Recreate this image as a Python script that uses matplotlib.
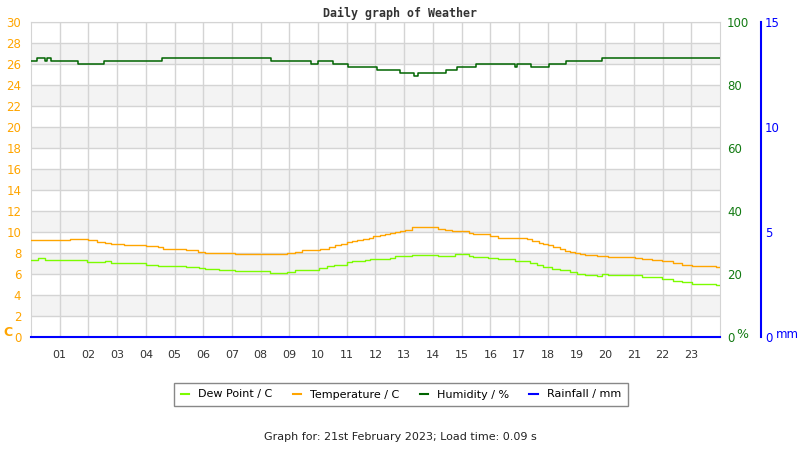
import matplotlib
matplotlib.use("Agg")
import matplotlib.pyplot as plt
from matplotlib.lines import Line2D

# hours at which each reading starts (step data, held until next reading)
temp_t = [0, 1.37, 1.97, 2.31, 2.59, 2.80, 3.25, 4.02, 4.44, 4.61, 5.41, 5.83, 6.07, 6.53,
          7.12, 8.92, 9.21, 9.44, 10.08, 10.37, 10.6, 10.81, 11.0, 11.18, 11.35, 11.58, 11.76,
          11.93, 12.17, 12.34, 12.51, 12.69, 12.86, 13.04, 13.27, 14.19, 14.43, 14.66, 15.24,
          15.41, 15.99, 16.28, 16.92, 17.27, 17.44, 17.68, 17.85, 18.02, 18.2, 18.43, 18.6,
          18.78, 18.95, 19.13, 19.3, 19.71, 20.11, 21.04, 21.27, 21.62, 21.97, 22.37, 22.67,
          23.01, 23.85, 24]
temp_v = [9.24, 9.32, 9.24, 9.07, 9.0, 8.87, 8.78, 8.69, 8.57, 8.39, 8.29, 8.12, 8.02, 7.98,
          7.9, 8.0, 8.1, 8.28, 8.4, 8.58, 8.76, 8.9, 9.08, 9.18, 9.28, 9.35, 9.47,
          9.63, 9.7, 9.77, 9.86, 9.99, 10.08, 10.18, 10.43, 10.3, 10.17, 10.05, 9.91,
          9.79, 9.62, 9.46, 9.4, 9.3, 9.14, 8.98, 8.86, 8.73, 8.54, 8.38, 8.22,
          8.1, 8.0, 7.9, 7.84, 7.71, 7.62, 7.56, 7.43, 7.33, 7.2, 7.01, 6.89,
          6.76, 6.68, 6.68]

dew_t = [0, 0.24, 0.5, 1.96, 2.59, 2.8, 3.29, 4.01, 4.43, 5.41, 5.84, 6.07, 6.54, 7.12, 8.34,
         8.92, 9.21, 9.84, 10.02, 10.31, 10.54, 11.0, 11.18, 11.64, 11.82, 12.51, 12.69, 12.92,
         13.27, 14.19, 14.78, 15.24, 15.41, 15.93, 16.28, 16.86, 17.38, 17.62, 17.85, 18.14,
         18.43, 18.78, 19.01, 19.3, 19.71, 19.88, 20.11, 21.04, 21.27, 21.62, 21.97, 22.37,
         22.67, 23.01, 23.85, 24]
dew_v = [7.33, 7.48, 7.33, 7.14, 7.2, 7.05, 7.03, 6.89, 6.76, 6.63, 6.55, 6.48, 6.41, 6.25, 6.06,
         6.19, 6.36, 6.38, 6.57, 6.76, 6.89, 7.1, 7.2, 7.3, 7.46, 7.55, 7.68, 7.74,
         7.81, 7.74, 7.9, 7.74, 7.65, 7.55, 7.39, 7.24, 7.05, 6.82, 6.63, 6.5,
         6.38, 6.19, 6.03, 5.93, 5.84, 6.03, 5.93, 5.87, 5.74, 5.68, 5.52, 5.3,
         5.24, 5.07, 4.98, 4.98]

hum_t = [0, 0.22, 0.49, 0.55, 0.70, 1.64, 2.54, 4.56, 8.36, 9.75, 10.0, 10.52, 11.04, 12.05,
         12.85, 13.34, 13.48, 14.45, 14.84, 15.5, 16.86, 16.93, 17.42, 18.04, 18.63, 19.89, 24]
hum_v = [87.6, 88.5, 87.6, 88.5, 87.6, 86.7, 87.6, 88.5, 87.6, 86.7, 87.6, 86.7, 85.7, 84.8,
         83.8, 82.9, 83.8, 84.8, 85.7, 86.7, 85.7, 86.7, 85.7, 86.7, 87.6, 88.5, 88.5]

rain_t = [0, 24]
rain_v = [0, 0]

hour_labels = ["%02d" % h for h in range(1, 24)]

ORANGE = "#FFA500"
DEW = "#7CFC00"
HUM = "#006400"
RAIN = "#0000FF"

fig = plt.figure(figsize=(8, 4.5), dpi=100)
ax = fig.add_axes([31 / 800, 113 / 450, 689 / 800, 315 / 450])

# alternating bands
for lo in range(2, 30, 4):
    ax.axhspan(lo, lo + 2, color="#f3f3f3", zorder=0, lw=0)

ax.set_xlim(0, 24)
ax.set_ylim(0, 30)
ax.set_yticks(range(0, 31, 2))
ax.set_xticks(range(1, 24))
ax.set_xticklabels(hour_labels)
ax.grid(True, color="#d4d4d4", lw=1, zorder=1)
ax.set_axisbelow(True)
ax.tick_params(axis="y", length=0, pad=7, labelcolor=ORANGE, labelsize=8.5)
ax.tick_params(axis="x", length=0, pad=9, labelcolor="#333333", labelsize=8)
for s in ax.spines.values():
    s.set_color("#d4d4d4")

ax.step(temp_t, temp_v, where="post", color=ORANGE, lw=1.0, zorder=3)
ax.step(dew_t, dew_v, where="post", color=DEW, lw=1.0, zorder=3)

# humidity axis
ax2 = ax.twinx()
ax2.set_ylim(0, 100)
ax2.set_yticks(range(0, 101, 20))
ax2.tick_params(axis="y", length=0, pad=5, labelcolor="#127a12", labelsize=8.5)
for s in ax2.spines.values():
    s.set_visible(False)
ax2.step(hum_t, hum_v, where="post", color=HUM, lw=1.1)

# rainfall axis
ax3 = ax.twinx()
ax3.set_ylim(0, 15)
ax3.set_yticks([0, 5, 10, 15])
for s in ax3.spines.values():
    s.set_visible(False)
ax3.spines["right"].set_visible(True)
ax3.spines["right"].set_position(("axes", (761 - 31) / 689))
ax3.spines["right"].set_color(RAIN)
ax3.spines["right"].set_linewidth(1.5)
ax3.tick_params(axis="y", length=0, pad=3, color=RAIN, labelcolor=RAIN, labelsize=8.5)
ax3.plot(rain_t, rain_v, color=RAIN, lw=1.5, clip_on=False)

fig.text(3 / 800, 1 - 333 / 450, "C", color=ORANGE, fontsize=9, fontweight="bold",
         va="center")
fig.text(736 / 800, 1 - 335 / 450, "%", color="#127a12", fontsize=9, va="center")
fig.text(776 / 800, 1 - 335 / 450, "mm", color=RAIN, fontsize=8.5, va="center")

fig.text(0.5, 1 - 13 / 450, "Daily graph of Weather", family="DejaVu Sans Mono",
         fontweight="bold", fontsize=8.4, color="#333333", ha="center", va="center")

handles = [Line2D([], [], color=DEW, lw=1.5), Line2D([], [], color=ORANGE, lw=1.5),
           Line2D([], [], color=HUM, lw=1.5), Line2D([], [], color=RAIN, lw=1.5)]
labels = ["Dew Point / C", "Temperature / C", "Humidity / %", "Rainfall / mm"]
leg = fig.legend(handles, labels, loc="center", bbox_to_anchor=(401 / 800, 1 - 394.5 / 450),
                 ncol=4, fontsize=8, handlelength=0.8, handletextpad=0.8, columnspacing=1.8,
                 fancybox=False, edgecolor="#888888", borderpad=0.55, framealpha=1)
leg.get_frame().set_linewidth(1)

fig.text(0.5, 1 - 437 / 450, "Graph for: 21st February 2023; Load time: 0.09 s",
         fontsize=8, color="#222222", ha="center", va="center")

fig.savefig("out.png", dpi=100)
